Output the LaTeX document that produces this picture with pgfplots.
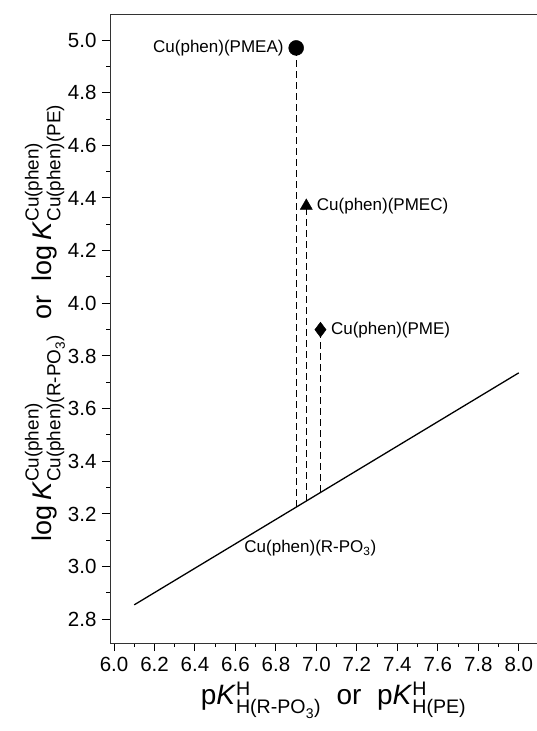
\documentclass[border=0pt]{standalone}
\usepackage{amsmath}
\usepackage{fontspec}
\setmainfont{Liberation Sans}
\usepackage{pgfplots}
\pgfplotsset{compat=1.18}

\begin{document}
\begin{tikzpicture}
\useasboundingbox (0,0) rectangle (537pt,731pt);
\begin{axis}[
    at={(110pt,88pt)}, anchor=south west,
    scale only axis,
    width=427pt, height=628pt,
    xmin=5.98, xmax=8.09,
    ymin=2.71, ymax=5.095,
    axis x line*=box,
    axis y line*=left,
    axis line style={line width=1pt, draw=black!80},
    xtick={6.0,6.2,...,8.0},
    ytick={2.8,3.0,...,5.0},
    minor x tick num=1,
    minor y tick num=1,
    xtick pos=bottom, ytick pos=left,
    tick align=outside,
    major tick length=8pt, minor tick length=4pt,
    tick style={line width=1pt, black},
    /pgf/number format/.cd, fixed, fixed zerofill, precision=1, assume math mode=true,
    /pgfplots/.cd,
    ticklabel style={font=\fontsize{20.5}{22}\selectfont},
    xticklabel style={yshift=-3pt},
    yticklabel style={xshift=-2pt},
    xlabel={p\textit{K}$^{\text{H}}_{\text{H(R-PO}_{\text{3}}\text{)}}$\ \ or\ \ p\textit{K}$^{\text{H}}_{\text{H(PE)}}$},
    ylabel={log\,\textit{K}$^{\text{Cu(phen)}}_{\text{Cu(phen)(R-PO}_{\text{3}}\text{)}}$\hspace{0.55em}or\hspace{0.55em}log\,\textit{K}$^{\text{Cu(phen)}}_{\text{Cu(phen)(PE)}}$},
    xlabel style={font=\fontsize{28}{30}\selectfont, yshift=-3pt, xshift=10pt},
    ylabel style={font=\fontsize{27}{30}\selectfont, yshift=-4pt, xshift=6pt},
    clip=false,
]
% regression line
\addplot[black, line width=1.3pt] coordinates {(6.10,2.855) (8.00,3.736)};
% dashed drops
\addplot[black, line width=1.2pt, dash pattern=on 7pt off 4pt] coordinates {(6.90,3.228) (6.90,4.97)};
\addplot[black, line width=1.2pt, dash pattern=on 7pt off 4pt] coordinates {(6.95,3.251) (6.95,4.36)};
\addplot[black, line width=1.2pt, dash pattern=on 7pt off 4pt] coordinates {(7.02,3.284) (7.02,3.90)};
% points
\addplot[only marks, mark=*, mark size=7.5pt, black] coordinates {(6.90,4.97)};
\addplot[only marks, mark=triangle*, mark size=7pt, black] coordinates {(6.95,4.37)};
\addplot[only marks, mark=diamond*, mark size=7.5pt, black] coordinates {(7.02,3.90)};
% labels
\node[anchor=east, font=\fontsize{17}{19}\selectfont] at (axis cs:6.855,4.97) {Cu(phen)(PMEA)};
\node[anchor=west, font=\fontsize{17}{19}\selectfont] at (axis cs:6.985,4.37) {Cu(phen)(PMEC)};
\node[anchor=west, font=\fontsize{17}{19}\selectfont] at (axis cs:7.055,3.90) {Cu(phen)(PME)};
\node[font=\fontsize{17}{19}\selectfont] at (axis cs:6.97,3.07) {Cu(phen)(R-PO$_{\text{3}}$)};
\end{axis}
\end{tikzpicture}
\end{document}
